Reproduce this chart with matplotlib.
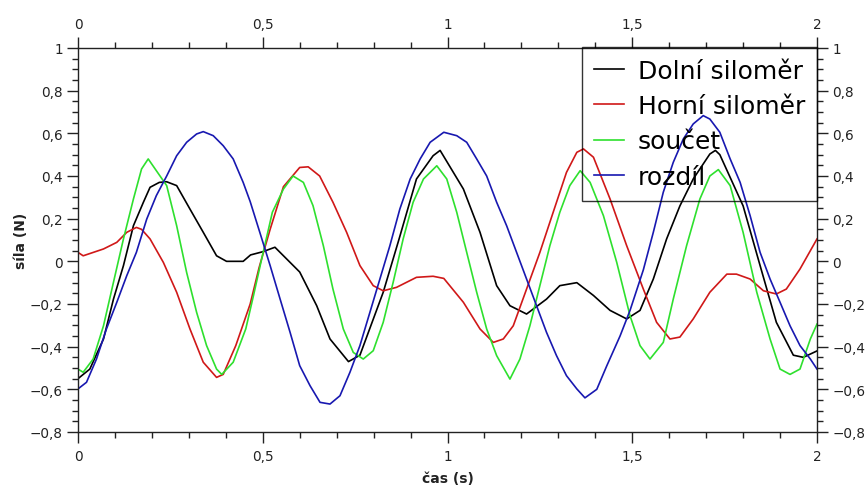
import matplotlib
matplotlib.use("Agg")
import matplotlib.pyplot as plt
from matplotlib.ticker import MultipleLocator, FixedLocator, FixedFormatter

# ---------------- data ----------------
t_dolni = [0, 0.032, 0.069, 0.096, 0.123, 0.15, 0.177, 0.195, 0.22, 0.24, 0.267, 0.303,
           0.339, 0.375, 0.402, 0.447, 0.467, 0.5, 0.533, 0.6, 0.646, 0.682, 0.732, 0.763,
           0.826, 0.869, 0.916, 0.961, 0.98, 1.043, 1.088, 1.133, 1.169, 1.214, 1.268, 1.304,
           1.35, 1.395, 1.44, 1.485, 1.521, 1.557, 1.593, 1.629, 1.665, 1.71, 1.725, 1.737,
           1.8, 1.846, 1.89, 1.936, 1.963, 2.0]
v_dolni = [-0.55, -0.505, -0.364, -0.177, -0.02, 0.167, 0.277, 0.347, 0.37, 0.373, 0.355, 0.245,
           0.136, 0.026, 0.0, 0.0, 0.03, 0.045, 0.066, -0.05, -0.208, -0.364, -0.47, -0.44,
           -0.145, 0.105, 0.386, 0.495, 0.52, 0.339, 0.136, -0.114, -0.208, -0.247, -0.177, -0.114,
           -0.10, -0.16, -0.23, -0.27, -0.23, -0.083, 0.105, 0.26, 0.386, 0.503, 0.52, 0.50,
           0.26, -0.02, -0.286, -0.44, -0.45, -0.42]

t_horni = [0, 0.014, 0.069, 0.105, 0.132, 0.158, 0.172, 0.195, 0.231, 0.267, 0.303, 0.339,
           0.375, 0.393, 0.427, 0.466, 0.49, 0.5, 0.52, 0.556, 0.6, 0.623, 0.654, 0.69, 0.727,
           0.763, 0.799, 0.826, 0.862, 0.916, 0.961, 0.99, 1.043, 1.088, 1.124, 1.151, 1.178,
           1.214, 1.25, 1.286, 1.322, 1.35, 1.368, 1.395, 1.44, 1.485, 1.53, 1.566, 1.602,
           1.629, 1.665, 1.71, 1.756, 1.782, 1.819, 1.855, 1.89, 1.917, 1.954, 2.0]
v_horni = [0.042, 0.026, 0.058, 0.089, 0.136, 0.159, 0.15, 0.105, -0.005, -0.145, -0.317, -0.473,
           -0.544, -0.53, -0.395, -0.2, -0.03, 0.03, 0.15, 0.35, 0.44, 0.443, 0.40, 0.277, 0.136,
           -0.02, -0.114, -0.138, -0.122, -0.075, -0.07, -0.08, -0.192, -0.317, -0.38, -0.364, -0.302,
           -0.13, 0.042, 0.23, 0.417, 0.511, 0.527, 0.488, 0.292, 0.073, -0.13, -0.286, -0.364,
           -0.355, -0.27, -0.145, -0.06, -0.06, -0.083, -0.138, -0.153, -0.13, -0.036, 0.105]

t_soucet = [0, 0.014, 0.041, 0.069, 0.096, 0.123, 0.15, 0.172, 0.19, 0.212, 0.24, 0.267,
            0.294, 0.321, 0.348, 0.375, 0.389, 0.42, 0.454, 0.475, 0.499, 0.526, 0.556, 0.582,
            0.61, 0.636, 0.664, 0.69, 0.718, 0.745, 0.772, 0.799, 0.826, 0.853, 0.88, 0.907,
            0.935, 0.971, 0.998, 1.025, 1.052, 1.079, 1.106, 1.133, 1.169, 1.196, 1.223, 1.25,
            1.277, 1.304, 1.331, 1.359, 1.386, 1.422, 1.458, 1.494, 1.521, 1.548, 1.584, 1.611,
            1.647, 1.683, 1.71, 1.733, 1.765, 1.8, 1.837, 1.873, 1.9, 1.927, 1.954, 1.982, 2.0]
v_soucet = [-0.505, -0.52, -0.458, -0.302, -0.098, 0.105, 0.292, 0.433, 0.48, 0.425, 0.355, 0.167,
            -0.052, -0.239, -0.395, -0.505, -0.53, -0.473, -0.317, -0.16, 0.026, 0.23, 0.339, 0.40,
            0.37, 0.261, 0.073, -0.13, -0.317, -0.427, -0.458, -0.419, -0.286, -0.098, 0.105, 0.277,
            0.386, 0.448, 0.386, 0.23, 0.042, -0.145, -0.317, -0.442, -0.552, -0.458, -0.302, -0.114,
            0.073, 0.23, 0.355, 0.425, 0.37, 0.214, -0.005, -0.255, -0.395, -0.458, -0.38, -0.177,
            0.073, 0.292, 0.40, 0.43, 0.355, 0.136, -0.145, -0.364, -0.505, -0.53, -0.505, -0.364, -0.294]

t_rozdil = [0, 0.023, 0.05, 0.077, 0.105, 0.132, 0.158, 0.186, 0.212, 0.24, 0.267, 0.294,
            0.321, 0.339, 0.366, 0.393, 0.42, 0.447, 0.466, 0.492, 0.52, 0.547, 0.574, 0.6,
            0.628, 0.655, 0.682, 0.709, 0.736, 0.763, 0.79, 0.817, 0.844, 0.871, 0.899, 0.926,
            0.953, 0.99, 1.025, 1.052, 1.079, 1.106, 1.133, 1.16, 1.187, 1.214, 1.241, 1.268,
            1.295, 1.322, 1.35, 1.372, 1.404, 1.431, 1.467, 1.494, 1.53, 1.557, 1.584, 1.611,
            1.638, 1.665, 1.692, 1.71, 1.737, 1.765, 1.792, 1.819, 1.846, 1.873, 1.9, 1.927,
            1.954, 1.982, 2.0]
v_rozdil = [-0.598, -0.567, -0.458, -0.317, -0.192, -0.067, 0.042, 0.198, 0.308, 0.40, 0.495, 0.558,
            0.597, 0.608, 0.589, 0.542, 0.48, 0.37, 0.28, 0.136, -0.02, -0.177, -0.333, -0.489,
            -0.583, -0.661, -0.669, -0.63, -0.52, -0.395, -0.239, -0.083, 0.073, 0.245, 0.386, 0.48,
            0.558, 0.605, 0.589, 0.558, 0.48, 0.40, 0.277, 0.167, 0.042, -0.083, -0.208, -0.333,
            -0.442, -0.536, -0.598, -0.640, -0.60, -0.49, -0.35, -0.23, -0.04, 0.136, 0.324, 0.464,
            0.573, 0.644, 0.683, 0.667, 0.605, 0.48, 0.37, 0.214, 0.042, -0.083, -0.192, -0.302,
            -0.395, -0.458, -0.505]

series_labels = ["Dolní siloměr", "Horní siloměr", "součet", "rozdíl"]
x_ticks = [0, 0.5, 1, 1.5, 2]
x_tick_labels = ["0", "0,5", "1", "1,5", "2"]
y_ticks = [-0.8, -0.6, -0.4, -0.2, 0, 0.2, 0.4, 0.6, 0.8, 1]
y_tick_labels = ["\u22120,8", "\u22120,6", "\u22120,4", "\u22120,2", "0", "0,2", "0,4", "0,6", "0,8", "1"]

# ---------------- figure ----------------
plt.rcParams['font.family'] = ['DejaVu Sans']
fig = plt.figure(figsize=(8.68, 4.89), dpi=100)
ax = fig.add_axes([78 / 868, 1 - 433 / 489, 739 / 868, 384 / 489])

colors = ["#000000", "#d01818", "#2ee02e", "#1818b0"]
for t, v, c, lab in zip([t_dolni, t_horni, t_soucet, t_rozdil],
                        [v_dolni, v_horni, v_soucet, v_rozdil], colors, series_labels):
    ax.plot(t, v, color=c, lw=1.2, label=lab)

ax.set_xlim(0, 2)
ax.set_ylim(-0.8, 1)

ax.xaxis.set_major_locator(FixedLocator(x_ticks))
ax.xaxis.set_major_formatter(FixedFormatter(x_tick_labels))
ax.yaxis.set_major_locator(FixedLocator(y_ticks))
ax.yaxis.set_major_formatter(FixedFormatter(y_tick_labels))
ax.xaxis.set_minor_locator(MultipleLocator(0.1))
ax.yaxis.set_minor_locator(MultipleLocator(0.05))

ax.tick_params(which='both', direction='out', top=True, right=True,
               labeltop=True, labelright=True, colors='#222222', width=1.0)
ax.tick_params(which='major', length=8, labelsize=9.8)
ax.tick_params(which='minor', length=4.5)
ax.tick_params(axis='x', which='major', pad=4)
ax.tick_params(axis='y', which='major', pad=3)

for s in ax.spines.values():
    s.set_linewidth(1.0)
    s.set_color('#222222')

ax.set_ylabel("síla (N)", fontsize=10, fontweight='bold', color='#222222')
ax.yaxis.set_label_coords(-0.068, 0.5)
ax.set_xlabel("čas (s)", fontsize=10, fontweight='bold', color='#222222')
ax.xaxis.set_label_coords(0.5, -0.102)

leg = ax.legend(loc='upper right', bbox_to_anchor=(1.0, 1.003), borderaxespad=0,
                fontsize=18, frameon=True, fancybox=False, handlelength=1.2,
                handletextpad=0.55, borderpad=0.48, labelspacing=0.45)
frame = leg.get_frame()
frame.set_edgecolor('black')
frame.set_facecolor('none')
frame.set_linewidth(1.0)

fig.savefig("out.png", dpi=100)
